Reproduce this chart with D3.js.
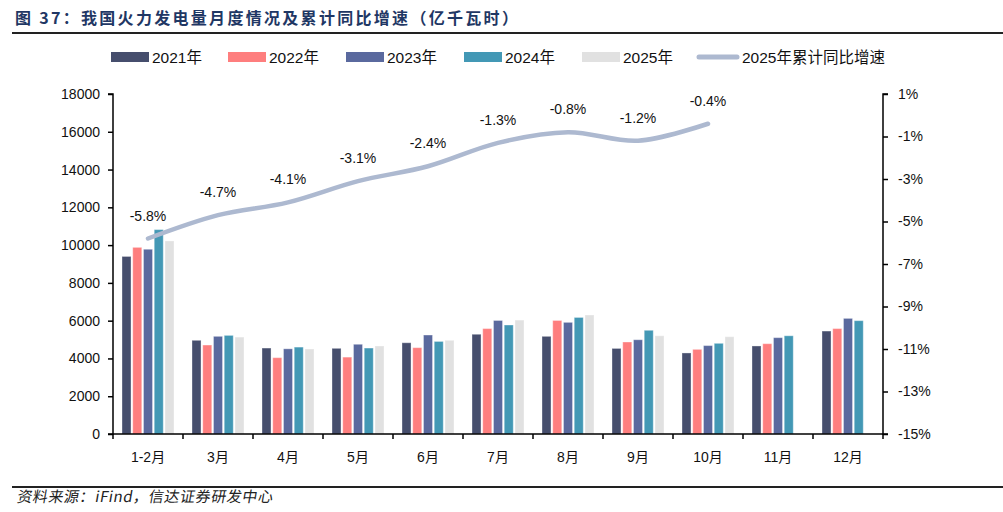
<!DOCTYPE html>
<html><head><meta charset="utf-8">
<script src="https://cdn.jsdelivr.net/npm/d3@7"></script>
<style>
html,body{margin:0;padding:0;background:#fff;}
svg{display:block;}
</style></head>
<body>
<svg id="chart" width="1003" height="512"></svg>
<script>
const categories = ["1-2月","3月","4月","5月","6月","7月","8月","9月","10月","11月","12月"];
const years = ["2021年","2022年","2023年","2024年","2025年"];
const v2021 = [9400, 4960, 4550, 4535, 4830, 5280, 5170, 4530, 4290, 4660, 5450];
const v2022 = [9880, 4710, 4040, 4070, 4570, 5580, 6010, 4870, 4480, 4780, 5580];
const v2023 = [9780, 5170, 4510, 4750, 5240, 6010, 5910, 4990, 4680, 5100, 6120];
const v2024 = [10820, 5220, 4600, 4550, 4900, 5770, 6170, 5490, 4800, 5200, 6000];
const v2025 = [10220, 5130, 4500, 4660, 4960, 6030, 6300, 5200, 5150, null, null];
const growth2025 = [-5.8, -4.7, -4.1, -3.1, -2.4, -1.3, -0.8, -1.2, -0.4];
const leftTicks = [0,2000,4000,6000,8000,10000,12000,14000,16000,18000];
const rightTicks = [1,-1,-3,-5,-7,-9,-11,-13,-15];
const lineName = "2025年累计同比增速";

const colors = ["#464e6d","#fe7e7e","#5a699e","#4398b5","#e1e1e1"];
const lineColor = "#adb9d0";
const series = [v2021, v2022, v2023, v2024, v2025];

const svg = d3.select("#chart");
const L = 113, R = 883, T = 94, B = 434;
const font = "'Liberation Sans', Arial, 'Noto Sans CJK SC', sans-serif";

// Title
svg.append("text").attr("x", 15).attr("y", 24)
  .attr("font-family", "'Noto Sans CJK SC', sans-serif").attr("font-weight", 700)
  .attr("font-size", 16).attr("letter-spacing", "2.3px").attr("fill", "#1f3764")
  .text("图 37：我国火力发电量月度情况及累计同比增速（亿千瓦时）");
svg.append("line").attr("x1", 12).attr("x2", 1003).attr("y1", 33).attr("y2", 33)
  .attr("stroke", "#222").attr("stroke-width", 2);

// Footer
svg.append("line").attr("x1", 12).attr("x2", 1003).attr("y1", 487).attr("y2", 487)
  .attr("stroke", "#222").attr("stroke-width", 2);
svg.append("text").attr("x", 17).attr("y", 502)
  .attr("font-family", "'Noto Sans CJK SC', sans-serif")
  .attr("font-size", 15).attr("letter-spacing", "0.6px").attr("fill", "#222")
  .attr("transform", "translate(88,0) skewX(-10)")
  .text("资料来源：iFind，信达证券研发中心");

// Scales
const x0 = d3.scaleBand().domain(categories).range([L, R]).padding(0);
const x1 = d3.scaleBand().domain(years).range([9, 61]).paddingInner(0.16).paddingOuter(0);
const yL = d3.scaleLinear().domain([0, 18000]).range([B, T]);
const yR = d3.scaleLinear().domain([-15, 1]).range([B, T]);

// Bars
years.forEach((yr, si) => {
  const g = svg.append("g");
  categories.forEach((c, ci) => {
    const v = series[si][ci];
    if (v == null) return;
    g.append("rect")
      .attr("x", x0(c) + x1(yr))
      .attr("y", yL(v))
      .attr("width", x1.bandwidth())
      .attr("height", yL(0) - yL(v))
      .attr("fill", colors[si])
      .attr("stroke", "#ffffff").attr("stroke-opacity", 0.35).attr("stroke-width", 1);
  });
});

// Line
const lineData = growth2025.map((g, i) => [x0(categories[i]) + x0.bandwidth()/2, yR(g)]);
svg.append("path").datum(lineData)
  .attr("d", d3.line().curve(d3.curveCatmullRom.alpha(0.5)))
  .attr("fill", "none").attr("stroke", lineColor).attr("stroke-width", 4.5)
  .attr("stroke-linecap", "round");
growth2025.forEach((g, i) => {
  svg.append("text").attr("x", x0(categories[i]) + x0.bandwidth()/2).attr("y", yR(g) - 18)
    .attr("text-anchor", "middle").attr("font-family", font).attr("font-size", 14)
    .attr("fill", "#111").text(g.toFixed(1) + "%");
});

// Axes
const axisL = svg.append("g").attr("transform", `translate(${L},0)`)
  .call(d3.axisLeft(yL).tickValues(leftTicks).tickSize(5).tickPadding(8).tickFormat(d3.format("d")));
const axisR = svg.append("g").attr("transform", `translate(${R},0)`)
  .call(d3.axisRight(yR).tickValues(rightTicks).tickSize(5).tickPadding(10).tickFormat(d => d + "%"));
const axisB = svg.append("g").attr("transform", `translate(0,${B})`)
  .call(d3.axisBottom(x0).tickSize(0).tickPadding(18));
[axisL, axisR, axisB].forEach(a => {
  a.selectAll("path").attr("stroke", "#000").attr("stroke-width", 1.5);
  a.selectAll("line").attr("stroke", "#000").attr("stroke-width", 1.5);
  a.selectAll("text").attr("font-family", font).attr("font-size", 14).attr("fill", "#111");
});
axisL.select("path").attr("d", `M-5,${B}H0V${T}H-5`);
axisR.select("path").attr("d", `M5,${T}H0V${B}H5`);
axisB.select("path").attr("d", `M${L},0H${R}`);
// category boundary ticks
const bounds = categories.map(c => x0(c)).concat([R]);
svg.append("g").selectAll("line").data(bounds).join("line")
  .attr("x1", d => d).attr("x2", d => d).attr("y1", B).attr("y2", B + 5)
  .attr("stroke", "#000").attr("stroke-width", 1.5);

// Legend
const legX = [111, 228, 346, 464, 582];
const leg = svg.append("g");
years.forEach((yr, i) => {
  leg.append("rect").attr("x", legX[i]).attr("y", 52).attr("width", 38).attr("height", 10)
    .attr("fill", colors[i]);
  leg.append("text").attr("x", legX[i] + 41).attr("y", 62.5)
    .attr("font-family", font).attr("font-size", 15.5).attr("fill", "#111").text(yr);
});
leg.append("line").attr("x1", 699).attr("x2", 737).attr("y1", 57).attr("y2", 57)
  .attr("stroke", lineColor).attr("stroke-width", 5).attr("stroke-linecap", "round");
leg.append("text").attr("x", 742).attr("y", 62.5)
  .attr("font-family", font).attr("font-size", 15.5).attr("fill", "#111").text(lineName);
</script>
</body></html>
